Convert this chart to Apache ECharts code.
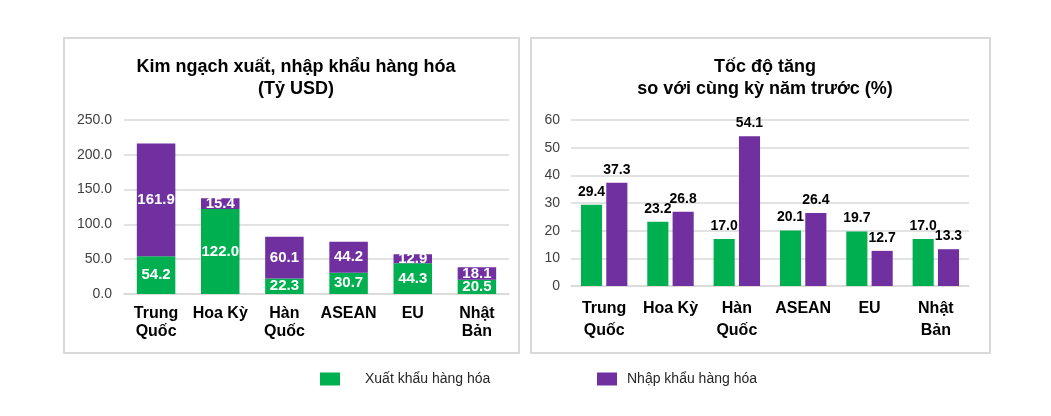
<!DOCTYPE html>
<html>
<head>
  <meta charset="utf-8" />
  <title>Kim ngạch xuất, nhập khẩu hàng hóa</title>
  <script src="https://cdn.jsdelivr.net/npm/echarts@6/dist/echarts.min.js"></script>
  <style>
    html, body { margin: 0; padding: 0; background: #fff; }
    #main { width: 1051px; height: 416px; }
  </style>
</head>
<body>
<div id="main"></div>
<script>
  // du lieu
  var categories = ['Trung\nQuốc', 'Hoa Kỳ', 'Hàn\nQuốc', 'ASEAN', 'EU', 'Nhật\nBản'];
  var exportValue = [54.2, 122.0, 22.3, 30.7, 44.3, 20.5];   // Tỷ USD
  var importValue = [161.9, 15.4, 60.1, 44.2, 12.9, 18.1];
  var exportGrowth = [29.4, 23.2, 17.0, 20.1, 19.7, 17.0];   // %
  var importGrowth = [37.3, 26.8, 54.1, 26.4, 12.7, 13.3];
  var seriesNames = ['Xuất khẩu hàng hóa', 'Nhập khẩu hàng hóa'];

  var green = '#00B050', purple = '#7030A0';
  var font = 'Liberation Sans, Arial, sans-serif';

  var myChart = echarts.init(document.getElementById('main'));

  function catAxis(idx, lh, margin) {
    return {
      type: 'category', gridIndex: idx, data: categories,
      axisTick: { show: false },
      axisLine: { lineStyle: { color: '#d9d9d9', width: 1.5 } },
      axisLabel: { color: '#000', fontFamily: font, fontWeight: 'bold', fontSize: 16, lineHeight: lh, margin: margin, interval: 0 }
    };
  }

  // chu giai: 2 legend rieng de chinh khoang cach
  function legendItem(name, left, pad) {
    return {
      data: [name], left: left, top: 367, itemWidth: 20, itemHeight: 13, icon: 'rect',
      textStyle: { fontFamily: font, fontSize: 14, color: '#262626', padding: [0, 0, 0, pad] }
    };
  }

  var option = {
    animation: false,
    textStyle: { fontFamily: font },
    graphic: [
      { type: 'rect', shape: { x: 64, y: 38, width: 455, height: 315 }, style: { fill: 'none', stroke: '#d9d9d9', lineWidth: 2 } },
      { type: 'rect', shape: { x: 531, y: 38, width: 459, height: 315 }, style: { fill: 'none', stroke: '#d9d9d9', lineWidth: 2 } }
    ],
    title: [
      { text: 'Kim ngạch xuất, nhập khẩu hàng hóa\n(Tỷ USD)', left: 291, top: 51, textAlign: 'center',
        textStyle: { fontFamily: font, fontWeight: 'bold', fontSize: 18, lineHeight: 22, color: '#000' } },
      { text: 'Tốc độ tăng\nso với cùng kỳ năm trước (%)', left: 760, top: 51, textAlign: 'center',
        textStyle: { fontFamily: font, fontWeight: 'bold', fontSize: 18, lineHeight: 22, color: '#000' } }
    ],
    legend: [legendItem(seriesNames[0], 315, 20), legendItem(seriesNames[1], 592, 5)],
    grid: [
      { left: 124, right: 542, top: 120, bottom: 122 },
      { left: 571, right: 82, top: 120, bottom: 130 }
    ],
    xAxis: [catAxis(0, 18, 11), catAxis(1, 22, 12)],
    yAxis: [
      { type: 'value', gridIndex: 0, min: 0, max: 250, interval: 50,
        axisLabel: { color: '#404040', fontSize: 14, fontFamily: font, margin: 12, formatter: function (v) { return v.toFixed(1); } },
        splitLine: { lineStyle: { color: '#d9d9d9', width: 1.5 } } },
      { type: 'value', gridIndex: 1, min: 0, max: 60, interval: 10,
        axisLabel: { color: '#404040', fontSize: 14, fontFamily: font, margin: 11 },
        splitLine: { lineStyle: { color: '#d9d9d9', width: 1.5 } } }
    ],
    series: [
      { name: seriesNames[0], type: 'bar', xAxisIndex: 0, yAxisIndex: 0, stack: 'kn', data: exportValue,
        barCategoryGap: '40%', itemStyle: { color: green },
        label: { show: true, position: 'inside', color: '#fff', fontWeight: 'bold', fontSize: 15, fontFamily: font,
          formatter: function (p) { return p.value.toFixed(1); } } },
      { name: seriesNames[1], type: 'bar', xAxisIndex: 0, yAxisIndex: 0, stack: 'kn', data: importValue,
        barCategoryGap: '40%', itemStyle: { color: purple },
        label: { show: true, position: 'inside', color: '#fff', fontWeight: 'bold', fontSize: 15, fontFamily: font,
          formatter: function (p) { return p.value.toFixed(1); } } },
      { name: seriesNames[0], type: 'bar', xAxisIndex: 1, yAxisIndex: 1, data: exportGrowth,
        barGap: '20%', barCategoryGap: '30%', itemStyle: { color: green },
        label: { show: true, position: 'top', distance: 6, color: '#000', fontWeight: 'bold', fontSize: 14, fontFamily: font,
          formatter: function (p) { return p.value.toFixed(1); } } },
      { name: seriesNames[1], type: 'bar', xAxisIndex: 1, yAxisIndex: 1, data: importGrowth,
        barGap: '20%', barCategoryGap: '30%', itemStyle: { color: purple },
        label: { show: true, position: 'top', distance: 6, color: '#000', fontWeight: 'bold', fontSize: 14, fontFamily: font,
          formatter: function (p) { return p.value.toFixed(1); } } }
    ]
  };

  myChart.setOption(option);
</script>
</body>
</html>
